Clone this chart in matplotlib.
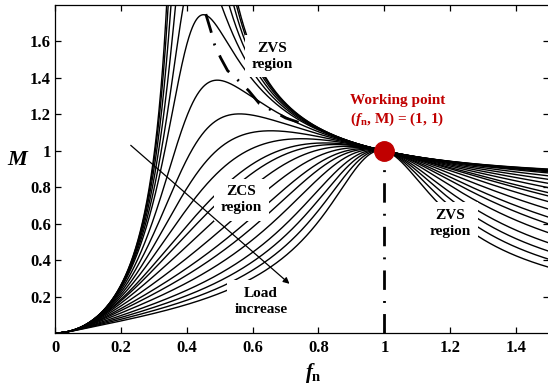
#Curvas de ganancia del convertidor LLC (FHA)
import matplotlib.pyplot as plt
import numpy as np

#----------Estilo----------#
plt.rcParams['font.family'] = 'Liberation Serif'
plt.rcParams['font.weight'] = 'bold'
plt.rcParams['mathtext.fontset'] = 'custom'
plt.rcParams['mathtext.it'] = 'Liberation Serif:italic:bold'
plt.rcParams['mathtext.rm'] = 'Liberation Serif:bold'
plt.rcParams['mathtext.bf'] = 'Liberation Serif:bold'

#----------Datos----------#
# relacion de inductancias Lm/Lr
k = 5
# factor de calidad de cada curva (carga creciente)
Q_values = [0.05, 0.1, 0.15, 0.2, 0.25, 0.3, 0.4, 0.5, 0.6, 0.7,
            0.81, 0.88, 1.0, 1.16, 1.34, 1.5, 1.73, 2.03, 2.32, 2.65, 3.05]
# frontera ZVS / ZCS
boundary_fn = [0.458, 0.473, 0.485, 0.503, 0.524, 0.56, 0.588, 0.62, 0.70, 0.75]
boundary_M = [1.75, 1.66, 1.58, 1.51, 1.44, 1.38, 1.33, 1.26, 1.18, 1.15]
# punto de trabajo
wp_fn, wp_M = 1, 1

xticks = [0, 0.2, 0.4, 0.6, 0.8, 1, 1.2, 1.4]
xtick_labels = ['0', '0.2', '0.4', '0.6', '0.8', '1', '1.2', '1.4']
yticks = [0.2, 0.4, 0.6, 0.8, 1, 1.2, 1.4, 1.6]
ytick_labels = ['0.2', '0.4', '0.6', '0.8', '1', '1.2', '1.4', '1.6']


# Ganancia del tanque LLC por aproximacion del primer armonico
def llc_gain(fn, Q, k):
    a = 1 + 1 / k - 1 / (k * fn**2)
    b = Q * (fn - 1 / fn)
    return 1 / np.sqrt(a**2 + b**2)


fn = np.linspace(0.001, 1.5, 3000)

fig = plt.figure(figsize=(5.48, 3.88), dpi=100)
ax = fig.add_axes([55 / 548, 55 / 388, 494 / 548, 328 / 388])

# Dibuja las curvas de ganancia
for Q in Q_values:
    ax.plot(fn, llc_gain(fn, Q, k), color='black', lw=1.0)

# Frontera ZVS/ZCS y linea del punto de trabajo
ax.plot(boundary_fn, boundary_M, color='black', lw=2.0,
        linestyle=(0, (7, 4, 0.7, 4)), zorder=3)
ax.plot([wp_fn, wp_fn], [0, wp_M], color='black', lw=2.0,
        linestyle=(0, (7, 4, 0.7, 4)), zorder=3)
ax.plot(wp_fn, wp_M, 'o', color='#c00000', markersize=14, zorder=6)

# Etiquetas de regiones
box = dict(facecolor='white', edgecolor='none', pad=5)
ax.text(0.66, 1.52, 'ZVS\nregion', fontsize=11, ha='center', va='center',
        linespacing=1.3, bbox=box, zorder=4)
ax.text(0.565, 0.73, 'ZCS\nregion', fontsize=11, ha='center', va='center',
        linespacing=1.3, bbox=box, zorder=4)
ax.text(1.2, 0.60, 'ZVS\nregion', fontsize=11, ha='center', va='center',
        linespacing=1.3, bbox=box, zorder=4)
ax.text(0.625, 0.175, 'Load\nincrease', fontsize=11, ha='center', va='center',
        linespacing=1.3, bbox=box, zorder=4)
ax.text(1.04, 1.22, 'Working point\n($f_\\mathrm{n}$, M) = (1, 1)', fontsize=11,
        ha='center', va='center', color='#c00000', linespacing=1.3, zorder=5)

# Flecha de aumento de carga
ax.annotate('', xy=(0.712, 0.27), xytext=(0.23, 1.03), zorder=5,
            arrowprops=dict(arrowstyle='-|>', color='black', lw=0.9,
                            mutation_scale=9, shrinkA=0, shrinkB=0))

ax.set_xlim(0, 1.5)
ax.set_ylim(0, 1.8)
ax.set_xticks(xticks)
ax.set_xticklabels(xtick_labels)
ax.set_yticks(yticks)
ax.set_yticklabels(ytick_labels)
ax.tick_params(direction='in', length=4.5, width=0.9, labelsize=12,
               top=True, right=True)
ax.tick_params(axis='x', pad=5)
ax.tick_params(axis='y', pad=3)
for s in ax.spines.values():
    s.set_linewidth(0.9)

ax.set_xlabel('$f_\\mathrm{n}$', fontsize=15)
ax.xaxis.set_label_coords(0.524, -0.085)
ax.set_ylabel('$M$', fontsize=16, rotation=0, va='center')
ax.yaxis.set_label_coords(-0.074, 0.527)

fig.savefig('out.png', dpi=100)
